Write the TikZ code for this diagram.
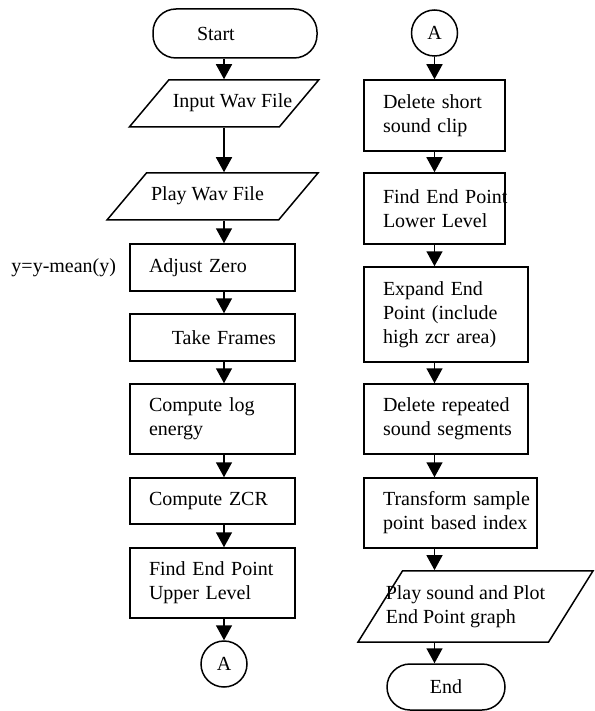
\documentclass[tikz,border=0pt]{standalone}
\usepackage{fontspec}
\setmainfont{Liberation Serif}
\usepackage{tikz}
\usetikzlibrary{positioning, arrows.meta, shapes.geometric}
\tikzset{
  flowline/.style={line width=1.5pt},
  termbox/.style={draw, flowline, rounded corners=23pt, minimum height=49pt, inner sep=0pt},
  procbox/.style={draw, flowline, align=left, inner xsep=19pt, inner ysep=0pt},
  iobox/.style={draw, flowline, trapezium, trapezium left angle=50, trapezium right angle=130,
    trapezium stretches body, align=left, inner xsep=0pt, inner ysep=14.5pt},
  conbox/.style={draw, flowline, circle, minimum size=46pt, inner sep=0pt},
  arr/.style={-{Triangle[length=15pt,width=16pt]}, flowline},
  note/.style={inner sep=3pt},
}
\begin{document}
\begin{tikzpicture}[x=1pt, y=-1pt, node font=\fontsize{20}{24}\selectfont]
  \useasboundingbox (0,0) rectangle (594,711);
  \coordinate (colL) at (224,0);
  \coordinate (colR) at (434.5,0);

  % first column
  \node[termbox, minimum width=164pt, text width=76pt, align=left] (start) at (235,33.5) {Start};
  \node[iobox, minimum width=188pt, inner xsep=-13pt, text height=13.5pt, text depth=4.5pt] (input) at (224,103.5) {\hspace*{17pt}Input Wav File};
  \node[iobox, minimum width=211pt, text height=13.5pt, text depth=4.5pt] (playwav) at (212.5,196.5) {Play Wav File\hspace*{10pt}};
  \node[procbox, text width=127pt, minimum height=47pt] (adjust) at (212.5,267.5) {Adjust Zero};
  \node[procbox, text width=127pt, minimum height=47pt, align=right] (frames) at (212.5,337.5) {Take Frames};
  \node[procbox, text width=127pt, minimum height=70pt] (logen) at (212.5,419) {\mbox{Compute log}\\energy};
  \node[procbox, text width=127pt, minimum height=46pt] (zcr) at (212.5,501) {\mbox{Compute ZCR}};
  \node[procbox, text width=127pt, minimum height=70pt] (upper) at (212.5,583) {\mbox{Find End Point}\\\mbox{Upper Level}};
  \node[conbox] (conL) at (224,664) {A};
  \node[note, left=10pt of adjust] (meanlbl) {y=y-mean(y)};

  % second column
  \node[conbox] (conR) at (434.5,33) {A};
  \node[procbox, text width=103pt, minimum height=71pt] (delshort) at (434.5,115.5) {\mbox{Delete short}\\\mbox{sound clip}};
  \node[procbox, text width=103pt, minimum height=71pt] (lower) at (434.5,208.5) {\mbox{Find End Point}\\\mbox{Lower Level}};
  \node[procbox, text width=126pt, minimum height=95pt] (expand) at (446,314.5) {\mbox{Expand End}\\\mbox{Point (include}\\\mbox{high zcr area)}};
  \node[procbox, text width=126pt, minimum height=70pt] (delrep) at (446,419) {\mbox{Delete repeated}\\\mbox{sound segments}};
  \node[procbox, text width=135pt, minimum height=70pt] (transform) at (450.5,513) {\mbox{Transform sample}\\\mbox{point based index}};
  \node[iobox, trapezium left angle=58, trapezium right angle=122, minimum width=235pt, inner xsep=-19pt] (playplot) at (475.5,606.5) {Play sound and Plot\hspace*{20pt}\\End Point graph};
  \node[termbox, minimum width=118pt, minimum height=46pt] (endn) at (446,687) {End};

  % connectors
  \foreach \a/\b in {start/input, input/playwav, playwav/adjust, adjust/frames,
                     frames/logen, logen/zcr, zcr/upper, upper/conL}
    \draw[arr] (\a.south -| colL) -- (\b.north -| colL);
  \foreach \a/\b in {conR/delshort, delshort/lower, lower/expand, expand/delrep,
                     delrep/transform, transform/playplot, playplot/endn}
    \draw[arr] (\a.south -| colR) -- (\b.north -| colR);
\end{tikzpicture}
\end{document}
